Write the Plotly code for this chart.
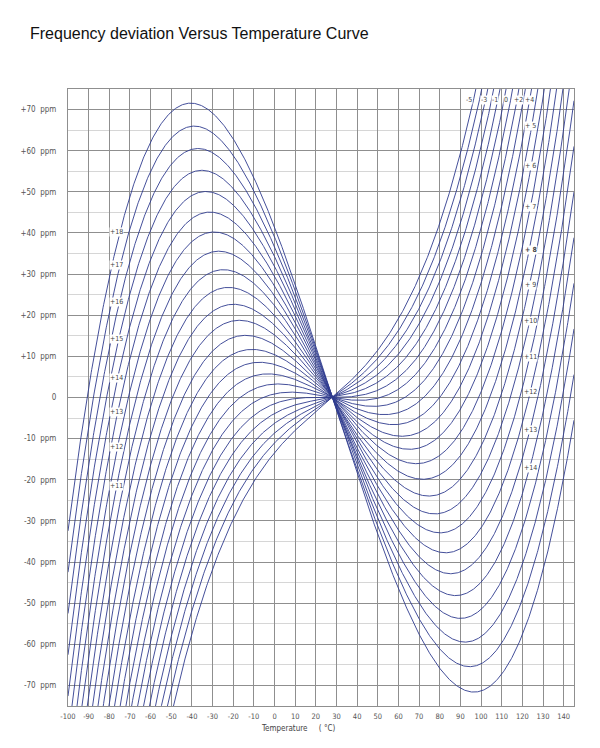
import numpy as np
import plotly.graph_objects as go

# angle deviation of each curve, in arc minutes
ANGLE_MIN = [-5, -4, -3, -2, -1, 0, 1, 2, 3, 4, 5, 6, 7, 8, 9,
             10, 11, 12, 13, 14, 15, 16, 17, 18]

# cubic fitted to the picture: f = a1*x + a2*x^2 + a3*x^3, x = T - T_REF
T_REF = 28.0
A1_PER_MIN = -0.087
A2_BASE = 1.2e-3
A2_PER_MIN = -6.7e-5
A3 = 1.11e-4

X_TICKS = [-100, -90, -80, -70, -60, -50, -40, -30, -20, -10, 0, 10, 20,
           30, 40, 50, 60, 70, 80, 90, 100, 110, 120, 130, 140]
X_TICK_TEXT = [str(v) for v in X_TICKS]
Y_TICKS = [-70, -60, -50, -40, -30, -20, -10, 0, 10, 20, 30, 40, 50, 60, 70]
Y_TICK_TEXT = ["-70\u00a0\u00a0ppm", "-60\u00a0\u00a0ppm", "-50\u00a0\u00a0ppm",
               "-40\u00a0\u00a0ppm", "-30\u00a0\u00a0ppm", "-20\u00a0\u00a0ppm",
               "-10\u00a0\u00a0ppm", "0", "+10\u00a0\u00a0ppm", "+20\u00a0\u00a0ppm",
               "+30\u00a0\u00a0ppm", "+40\u00a0\u00a0ppm", "+50\u00a0\u00a0ppm",
               "+60\u00a0\u00a0ppm", "+70\u00a0\u00a0ppm"]

# curve labels and where they sit (temperature, ppm)
LEFT_LABELS = ["+18", "+17", "+16", "+15", "+14", "+13", "+12", "+11"]
LEFT_LABEL_PPM = [40.2, 32.2, 23.2, 14.3, 4.8, -3.6, -12.1, -21.5]
LEFT_LABEL_T = -76.4

RIGHT_LABELS = ["+ 5", "+ 6", "+ 7", "<b>+ 8</b>", "+ 9", "+10", "+11", "+12", "+13", "+14"]
RIGHT_LABEL_PPM = [65.9, 56.2, 46.4, 35.9, 27.3, 18.6, 9.9, 1.3, -8.0, -17.2]
RIGHT_LABEL_T = 124.0

TOP_LABELS = ["-5", "-3", "-1", "0", "+2", "+4"]
TOP_LABEL_T = [94.2, 101.6, 106.7, 112.3, 118.0, 123.4]
TOP_LABEL_PPM = 72.4

temps = np.arange(-100.0, 145.25, 0.25)

fig = go.Figure()
for n in ANGLE_MIN:
    x = temps - T_REF
    ppm = A1_PER_MIN * n * x + (A2_BASE + A2_PER_MIN * n) * x ** 2 + A3 * x ** 3
    fig.add_trace(go.Scatter(x=temps, y=ppm, mode="lines",
                             line=dict(color="#2f3b8f", width=0.9),
                             hoverinfo="skip", showlegend=False))

small = dict(family="Liberation Sans Narrow, DejaVu Sans Condensed, Arial Narrow, sans-serif",
             size=7, color="#444444")

notes = []
for txt, v in zip(LEFT_LABELS, LEFT_LABEL_PPM):
    notes.append(dict(x=LEFT_LABEL_T, y=v, text=txt))
for txt, v in zip(RIGHT_LABELS, RIGHT_LABEL_PPM):
    notes.append(dict(x=RIGHT_LABEL_T, y=v, text=txt))
for txt, t in zip(TOP_LABELS, TOP_LABEL_T):
    notes.append(dict(x=t, y=TOP_LABEL_PPM, text=txt))
for a in notes:
    a.update(xref="x", yref="y", showarrow=False, font=small,
             bgcolor="white", borderpad=0)

notes.append(dict(xref="paper", yref="paper", x=0.455, y=-0.037, yanchor="middle",
                  showarrow=False,
                  text="Temperature\u00a0\u00a0\u00a0\u00a0\u00a0( °C)",
                  font=dict(family=small["family"], size=8, color="#444444")))

grid_dark = "#8f8f8f"
grid_light = "#d6d6d6"

fig.update_layout(
    width=600, height=748,
    margin=dict(l=56, r=34, t=81, b=50),
    paper_bgcolor="white", plot_bgcolor="white",
    title=dict(text="Frequency deviation Versus Temperature Curve",
               xref="container", yref="container", x=22 / 600, xanchor="left",
               y=1 - 25 / 748, yanchor="middle",
               font=dict(family="Liberation Sans, Arial, sans-serif", size=16, color="#111111")),
    annotations=notes,
    xaxis=dict(range=[-100, 145], tickvals=X_TICKS, ticktext=X_TICK_TEXT, showgrid=True,
               gridcolor=grid_dark, gridwidth=1, zeroline=False,
               showline=True, linecolor=grid_dark, mirror=True,
               ticks="", ticklabelstandoff=3,
               tickfont=dict(family=small["family"], size=7.5, color="#555555")),
    yaxis=dict(range=[-75, 75], tickvals=Y_TICKS, ticktext=Y_TICK_TEXT,
               showgrid=True, gridcolor=grid_dark, gridwidth=1, zeroline=False,
               showline=True, linecolor=grid_dark, mirror=True,
               ticks="", ticklabelstandoff=9,
               minor=dict(tickvals=[-65, -55, -45, -35, -25, -15, -5, 5, 15, 25, 35, 45, 55, 65],
                          showgrid=True, gridcolor=grid_light, gridwidth=1),
               tickfont=dict(family=small["family"], size=8, color="#555555")),
)

fig.write_html("out.html")
